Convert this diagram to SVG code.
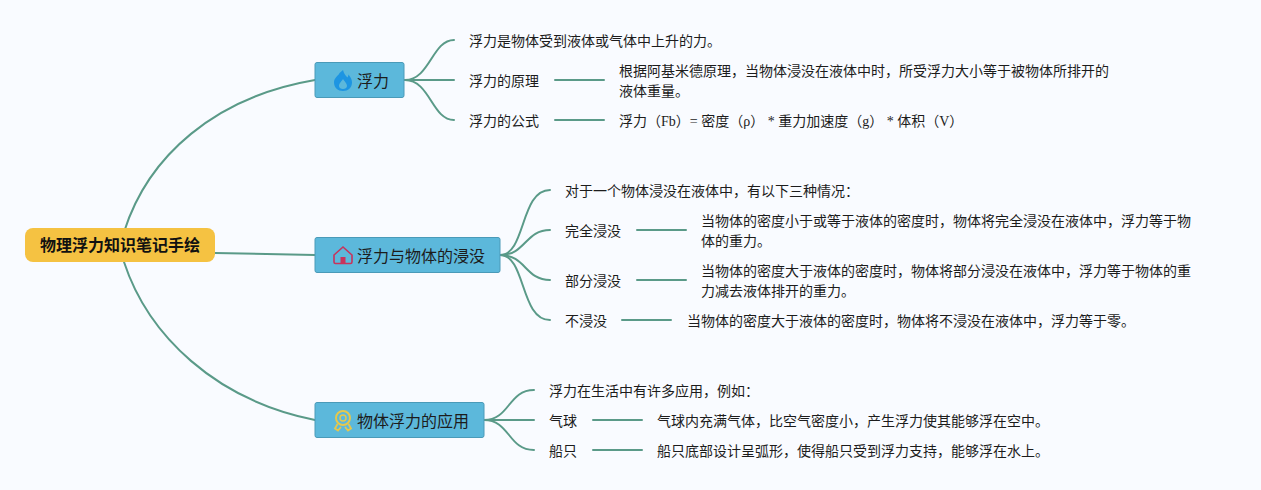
<svg xmlns="http://www.w3.org/2000/svg" width="1261" height="490" viewBox="0 0 1261 490">
<style>
text{font-family:"Noto Sans CJK SC","Noto Sans",sans-serif;fill:#1c1c1c;font-size:14px}
.c path{fill:none;stroke:#5a9a88;stroke-width:2;stroke-linecap:round}
.t{fill:#5cb8db;stroke:#4a9ab8;stroke-width:1}
.h{font-size:16px}
.s{font-family:"Liberation Serif","Noto Sans CJK SC",serif}
</style>
<rect width="1261" height="490" fill="#f9fbff"/>
<g class="c" id="connectors">
<path d="M124 232C148 156 215 97 315 80"/>
<path d="M215 253Q265 254 315 255"/>
<path d="M124 262C148 335 215 400 315 420"/>
<path d="M405 80C430 80 432 40 454 40"/>
<path d="M405 80H454"/>
<path d="M405 80C430 80 432 120 454 120"/>
<path d="M555 80H604"/>
<path d="M555 120H604"/>
<path d="M500 255C526 255 520 190 550 190"/>
<path d="M500 255C526 255 525 230 550 230"/>
<path d="M500 255C526 255 525 280 550 280"/>
<path d="M500 255C526 255 520 320 550 320"/>
<path d="M637 230H686"/>
<path d="M637 280H686"/>
<path d="M622 320H671"/>
<path d="M484 420C510 420 508 390 534 390"/>
<path d="M484 420H534"/>
<path d="M484 420C510 420 508 450 534 450"/>
<path d="M593 420H642"/>
<path d="M593 450H642"/>
</g>
<g id="root">
<rect x="25" y="228" width="190" height="34" rx="8" fill="#f5c242"/>
<text x="120" y="251" text-anchor="middle" style="font-size:16px;font-weight:700;fill:#111">物理浮力知识笔记手绘</text>
</g>
<g id="n1">
<rect class="t" x="315" y="62.500" width="89" height="35" rx="2"/>
<path fill-rule="evenodd" d="M343 70c1 4 3 6 4.500 7.500 .5-1 1-2 1-3 2 2.500 3.500 5 3.500 8 0 5-4 8.500-9 8.500s-9-3.500-9-8.500c0-4 3-6 5-8.500 .5-1.500 2-2 4-4zM343 79c-1 2-4 4-4 7 0 2 2 3 4 3s4-1 4-3c0-3-3-5-4-7z" fill="#1d95e2"/>
<text class="h" x="357" y="87">浮力</text>
</g>
<g id="n2">
<rect class="t" x="315" y="237.500" width="185" height="35" rx="2"/>
<path d="M334 255l9-8 9 8v7a1.500 1.500 0 0 1-1.500 1.500h-15a1.500 1.500 0 0 1-1.500-1.500z" fill="none" stroke="#c8335c" stroke-width="1.600"/>
<rect x="340.500" y="257" width="5" height="6.500" fill="#c8335c"/>
<text class="h" x="357" y="262">浮力与物体的浸没</text>
</g>
<g id="n3">
<rect class="t" x="315" y="402.500" width="169" height="35" rx="2"/>
<circle cx="343" cy="418" r="7" fill="none" stroke="#e6c84c" stroke-width="2"/>
<circle cx="343" cy="418" r="3" fill="none" stroke="#e6c84c" stroke-width="1.500"/>
<path d="M337.500 424l-2.500 4.500 3 2 3-3.500M348.500 424l2.500 4.500-3 2-3-3.500" fill="none" stroke="#e6c84c" stroke-width="1.800"/>
<text class="h" x="357" y="427">物体浮力的应用</text>
</g>
<g id="n1a"><text x="469" y="46">浮力是物体受到液体或气体中上升的力。</text></g>
<g id="n1b"><text x="469" y="86">浮力的原理</text></g>
<g id="n1b1"><text x="619" y="76">根据阿基米德原理，当物体浸没在液体中时，所受浮力大小等于被物体所排开的</text><text x="619" y="96">液体重量。</text></g>
<g id="n1c"><text x="469" y="126">浮力的公式</text></g>
<g id="n1c1"><text class="s" x="619" y="126" xml:space="preserve">浮力（Fb）= 密度（ρ） * 重力加速度（g） * 体积（V）</text></g>
<g id="n2a"><text x="565" y="196">对于一个物体浸没在液体中，有以下三种情况：</text></g>
<g id="n2b"><text x="565" y="236">完全浸没</text></g>
<g id="n2b1"><text x="701" y="226">当物体的密度小于或等于液体的密度时，物体将完全浸没在液体中，浮力等于物</text><text x="701" y="246">体的重力。</text></g>
<g id="n2c"><text x="565" y="286">部分浸没</text></g>
<g id="n2c1"><text x="701" y="276">当物体的密度大于液体的密度时，物体将部分浸没在液体中，浮力等于物体的重</text><text x="701" y="296">力减去液体排开的重力。</text></g>
<g id="n2d"><text x="565" y="326">不浸没</text></g>
<g id="n2d1"><text x="687" y="326">当物体的密度大于液体的密度时，物体将不浸没在液体中，浮力等于零。</text></g>
<g id="n3a"><text x="549" y="396">浮力在生活中有许多应用，例如：</text></g>
<g id="n3b"><text x="549" y="426">气球</text></g>
<g id="n3b1"><text x="657" y="426">气球内充满气体，比空气密度小，产生浮力使其能够浮在空中。</text></g>
<g id="n3c"><text x="549" y="456">船只</text></g>
<g id="n3c1"><text x="657" y="456">船只底部设计呈弧形，使得船只受到浮力支持，能够浮在水上。</text></g>
</svg>
